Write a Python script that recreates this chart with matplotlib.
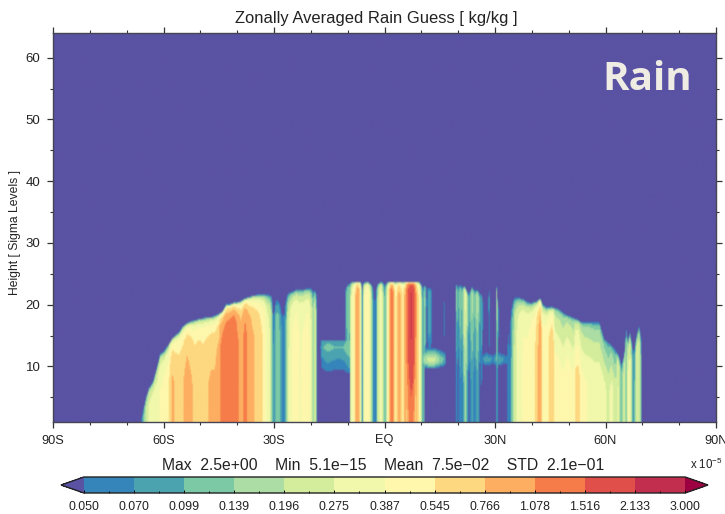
import numpy as np
import matplotlib
matplotlib.use("Agg")
import matplotlib.pyplot as plt
from matplotlib.colors import ListedColormap, BoundaryNorm
from matplotlib.ticker import MultipleLocator

plt.rcParams['font.family'] = ['Liberation Sans', 'DejaVu Sans']
plt.rcParams['mathtext.default'] = 'regular'
plt.rcParams['axes.unicode_minus'] = True

levels = [0.050, 0.070, 0.099, 0.139, 0.196, 0.275, 0.387, 0.545, 0.766, 1.078, 1.516, 2.133, 3.000]
level_labels = ['0.050', '0.070', '0.099', '0.139', '0.196', '0.275', '0.387', '0.545', '0.766', '1.078', '1.516', '2.133', '3.000']
band_colors = ['#3585BB', '#4BA3B0', '#7CC9A5', '#ABDDA4', '#D4ED9C', '#F1F8AB', '#FEF7AC',
               '#FDD880', '#FDAE61', '#F67D4A', '#E04F4A', '#C22E4E']
under_color = '#5A52A3'
over_color = '#9E0142'

# column table: latitude, top of rain [sigma level], peak rain value
col_lat = [-90, -66.4, -65.6, -64.8, -64, -62.9, -61.8, -61, -59.9, -58.8, -57.7, -56.9, -55.8, -54.8, -53.7, -52.6,
           -51.5, -50.4, -49.3, -48.2, -47.1, -46.1, -45, -44.2, -43, -42, -40.9, -40.1, -39, -37.9, -36.8, -35.7,
           -34.6, -33.6, -32.7, -31.9, -31.1, -30.6, -30.2, -29.5, -28.9, -28.4, -27.8, -27.3, -26.8, -26.2, -25.1,
           -24, -23, -21.9, -20.8, -20, -19.4, -18.9, -18.5, -18.1,
           -10.9, -10.5, -9.9, -9.5, -9.1, -8.6, -8, -7.5, -6.9, -6.4, -6, -5.6, -5, -4.5, -3.9, -3.4, -2.9, -2.3,
           -1.8, -0.95, -0.4, 0.1, 0.7, 1.2, 1.8, 2.3, 2.9, 3.4, 3.9, 4.5, 5, 5.6, 6.1, 6.7, 7.2, 7.8, 8.3, 8.8, 9.4,
           9.9, 10.3, 11, 11.5, 12.1, 12.6, 13.2, 13.6,
           15.9, 16.3, 16.7,
           19.2, 19.6, 20, 20.7, 21.1, 21.9, 22.3, 22.9, 23.8, 24.6, 25.2, 26, 26.4, 26.8, 27.6, 28.5, 29,
           30.2, 30.5, 30.9, 31.2,
           32.7, 33.6, 34.1, 34.5, 35, 35.5, 36.6, 37.7, 38.8, 39.9, 40.7, 41.2, 42.4, 42.9, 44, 44.8, 45.6, 46.4, 47.5,
           48.6, 49.7, 51.4, 51.9, 52.7, 53.5, 54.3, 55.7, 57, 58.4, 59.8, 60.9, 61.7, 62.5, 63.6, 64.4, 65.2, 65.7,
           66.2, 66.7, 67.5, 68, 68.5, 69.2, 69.7, 70, 90]
col_top = [1, 1, 3, 5, 6.5, 7.5, 10, 12, 12.5, 13.5, 14.5, 15, 15.5, 16.5, 17, 17.3,
           17.5, 17.7, 17.8, 18, 18, 18.2, 18.5, 18.8, 20, 20, 20.3, 20.3, 20.6, 21, 21.2, 21.5,
           21.6, 21.7, 21.7, 21.7, 21.7, 21.7, 20, 21.3, 21.3, 21, 20, 21, 21.5, 22, 22.2,
           22.5, 22.5, 22.6, 22.7, 22.8, 22.6, 22.4, 22.4, 22,
           22, 23, 23.5, 23.6, 23.7, 23.7, 23.7, 23.7, 23.7, 23.7, 23.5, 23.6, 23.7, 23.7, 23.5, 23.4, 23, 23.2,
           23.5, 23.7, 23.7, 23.5, 23.7, 23.7, 23.7, 23.7, 23.7, 23.7, 23.7, 23.7, 23.7, 23.7, 23.7, 23.7, 23.7, 23.7, 23.7, 23.7, 23.7,
           23.5, 23.3, 23.3, 23.2, 23, 23, 22.5, 22,
           21, 21, 21,
           23.5, 23.5, 23.3, 23.3, 23, 23, 22.5, 22, 23, 22.5, 22.5, 22, 22, 21, 21, 22.5, 22,
           23, 23, 20, 20,
           18, 18.3, 19, 20, 21.2, 21.3, 21.2, 21, 20.5, 20.3, 20.5, 20.5, 21, 20.2, 19.6, 19.6, 19.6, 19.5, 19.3,
           18.7, 18.3, 18, 17.7, 17.5, 17.2, 17.2, 17.2, 17.2, 17.2, 14.5, 14, 13.5, 13, 12, 10.5, 12, 16.7,
           14, 15.6, 13.5, 13.5, 15, 16.7, 15.4, 15, 15]
col_val = [0, 0.03, 0.1, 0.22, 0.3, 0.35, 0.35, 0.4, 0.45, 0.5, 0.85, 0.75, 0.7, 0.75, 0.9, 0.8,
           0.7, 0.75, 0.7, 0.75, 0.8, 0.8, 1.0, 1.2, 1.3, 1.4, 1.5, 1.2, 0.9, 1.25, 0.95, 0.8,
           0.7, 0.6, 0.5, 0.35, 0.28, 0.15, 0.06, 0.12, 0.13, 0.1, 0.07, 0.06, 0.1, 0.25, 0.4,
           0.45, 0.38, 0.4, 0.45, 0.3, 0.15, 0.3, 0.12, 0.0,
           0, 0.09, 0.14, 0.12, 0.25, 0.4, 0.6, 1.0, 0.9, 0.25, 0.06, 0.3, 0.45, 0.5, 0.3, 0.12, 0.05, 0.05,
           0.2, 0.38, 0.18, 0.08, 0.25, 0.6, 1.35, 1.2, 0.45, 0.6, 0.9, 0.7, 0.5, 0.85, 1.3, 1.9, 2.2, 2.0, 1.3, 0.8, 0.5,
           0.25, 0.08, 0.14, 0.05, 0.09, 0.08, 0.03, 0,
           0, 0.07, 0,
           0, 0.14, 0.08, 0.14, 0.09, 0.3, 0.22, 0.08, 0.16, 0.1, 0.18, 0.08, 0.11, 0.05, 0, 0.07, 0,
           0, 0.16, 0.09, 0,
           0, 0.06, 0.05, 0.1, 0.15, 0.25, 0.35, 0.4, 0.4, 0.45, 0.5, 0.6, 1.0, 0.45, 0.45, 0.6, 0.65, 0.5, 0.45,
           0.4, 0.5, 0.4, 0.6, 0.65, 0.45, 0.4, 0.38, 0.35, 0.35, 0.3, 0.25, 0.32, 0.25, 0.28, 0.1, 0.25, 0.12,
           0.28, 0.3, 0.09, 0.1, 0.25, 0.25, 0.13, 0, 0]

# vertical shape of a column: fraction of the column top -> fraction of the peak value
profile_frac = [0.0, 0.3, 0.4, 0.5, 0.7, 0.85, 0.9, 0.95, 0.98, 1.0]
profile_south = [1.0, 1.0, 1.0, 0.97, 0.85, 0.68, 0.58, 0.4, 0.24, 0.04]
profile_south_tall = [1.0, 1.0, 1.0, 1.0, 0.98, 0.85, 0.72, 0.5, 0.3, 0.04]
profile_tropic = [1.0, 1.0, 1.0, 1.0, 1.0, 1.0, 1.0, 0.85, 0.6, 0.05]
profile_hanging = [0.0, 0.0, 0.25, 0.6, 0.9, 1.0, 1.0, 0.95, 0.7, 0.05]
profile_peak = [0.55, 0.75, 0.85, 0.95, 1.0, 1.0, 1.0, 0.95, 0.7, 0.05]
profile_topheavy = [0.5, 0.5, 0.55, 0.65, 0.8, 1.0, 1.0, 1.0, 0.7, 0.05]
profile_north = [1.0, 1.0, 1.0, 1.0, 0.97, 0.85, 0.72, 0.5, 0.3, 0.05]
profile_far = [1.0, 1.0, 1.0, 0.95, 0.68, 0.5, 0.45, 0.36, 0.25, 0.05]

region_edges = [-45, -18, -9.5, 5.8, 8.5, 10.8, 14, 32, 46, 63]
region_profiles = [profile_south, profile_south_tall, profile_hanging, profile_tropic, profile_peak, profile_tropic,
                   profile_hanging, profile_topheavy, profile_north, profile_far, profile_north]

# shallow layers between the deep columns
band_left_lat = [-18.1, -17, -15.5, -14, -12.5, -11, -10, -9, -8]
band_left_val = [0, 0.095, 0.115, 0.105, 0.1, 0.105, 0.13, 0.14, 0.12]
band_left_z = [7, 9.3, 10.5, 12, 13, 14, 14.5]
band_left_w = [0, 0.48, 0.62, 0.8, 1.0, 0.8, 0]
band_right_lat = [9.5, 10.5, 11, 12, 13.5, 15, 16.5, 17, 24, 26.5, 27.5, 28.5, 29.5, 30.5, 31.5, 32.5, 33.5, 34.5, 35]
band_right_val = [0.1, 0.14, 0.17, 0.22, 0.22, 0.14, 0.09, 0, 0, 0.06, 0.085, 0.08, 0.065, 0.09, 0.085, 0.07, 0.06, 0.07, 0.09]
band_right_z = [9.2, 10, 10.6, 11.2, 11.8, 12.5, 13.3]
band_right_w = [0, 0.5, 0.9, 1.0, 0.7, 0.4, 0]

lat_ticks = [-90, -60, -30, 0, 30, 60, 90]
lat_labels = ['90S', '60S', '30S', 'EQ', '30N', '60N', '90N']
z_ticks = [10, 20, 30, 40, 50, 60]

lat = np.arange(-90, 90.01, 0.25)
z = np.arange(1, 64.01, 0.25)
top = np.interp(lat, col_lat, col_top)
val = np.interp(lat, col_lat, col_val)
field = np.zeros((z.size, lat.size))
region = np.searchsorted(region_edges, lat)
for j in range(lat.size):
    if val[j] > 0:
        w = np.interp(z / top[j], profile_frac, region_profiles[region[j]], right=0.0)
        field[:, j] = val[j] * w
left = np.interp(lat, band_left_lat, band_left_val, left=0, right=0)
right = np.interp(lat, band_right_lat, band_right_val, left=0, right=0)
field = np.maximum(field, np.outer(np.interp(z, band_left_z, band_left_w), left))
field = np.maximum(field, np.outer(np.interp(z, band_right_z, band_right_w), right))

cmap = ListedColormap(band_colors)
cmap.set_under(under_color)
cmap.set_over(over_color)
norm = BoundaryNorm(levels, cmap.N)

W, H = 725, 514
fig = plt.figure(figsize=(W / 100, H / 100), dpi=100)
ax = fig.add_axes([53 / W, 1 - 422 / H, 663 / W, 389 / H])
ax.set_facecolor(under_color)
im = ax.imshow(field, origin='lower', extent=[lat[0], lat[-1], z[0], z[-1]], aspect='auto', cmap=cmap, norm=norm,
               interpolation='bicubic', interpolation_stage='rgba')
ax.set_xlim(-90, 90)
ax.set_ylim(1, 64)
ax.set_xticks(lat_ticks)
ax.set_xticklabels(lat_labels, fontsize=9.2, color='#222222')
ax.set_yticks(z_ticks)
ax.set_yticklabels([str(v) for v in z_ticks], fontsize=9.5, color='#222222')
ax.xaxis.set_minor_locator(MultipleLocator(10))
ax.yaxis.set_minor_locator(MultipleLocator(5))
ax.tick_params(which='major', length=4, width=0.9, color='#333333', top=True, right=True, pad=5)
ax.tick_params(which='minor', length=2, width=0.8, color='#333333', top=True, right=True)
for s in ax.spines.values():
    s.set_color('#444455')
    s.set_linewidth(1.0)
fig.text(15 / W, 1 - 233 / H, 'Height [ Sigma Levels ]', rotation=90, ha='center', va='center', fontsize=8.7, color='#222222')
fig.text(376 / W, 1 - 19 / H, 'Zonally Averaged Rain Guess [ kg/kg ]', ha='center', va='center', fontsize=11.9, color='#222222')
fig.text(383 / W, 1 - 465 / H, 'Max  2.5e+00    Min  5.1e\u221215    Mean  7.5e\u221202    STD  2.1e\u221201',
         ha='center', va='center', fontsize=11.3, color='#222222')
fig.text(706 / W, 1 - 464 / H, 'x 10$^{-5}$', ha='center', va='center', fontsize=8.3, color='#222222')
fig.text(647 / W, 1 - 79 / H, 'Rain', ha='center', va='center', fontsize=29, fontweight='bold',
         family='Open Sans', color='#EFECE4')

cax = fig.add_axes([61 / W, 1 - 493 / H, 647 / W, 16 / H])
cb = fig.colorbar(im, cax=cax, orientation='horizontal', extend='both', extendfrac=0.038, spacing='uniform', ticks=levels, drawedges=False)
cb.ax.set_xticks(levels)
cb.ax.set_xticklabels(level_labels, fontsize=8.9, color='#222222')
cb.ax.set_xticks([(a + b) / 2 for a, b in zip(levels[:-1], levels[1:])], minor=True)
cb.ax.tick_params(which='major', direction='in', length=2, width=0.7, pad=6)
cb.ax.tick_params(which='minor', direction='in', length=1.5, width=0.7)
cb.outline.set_linewidth(1.0)
cb.outline.set_edgecolor('#222222')
fig.savefig('out.png', dpi=100)
